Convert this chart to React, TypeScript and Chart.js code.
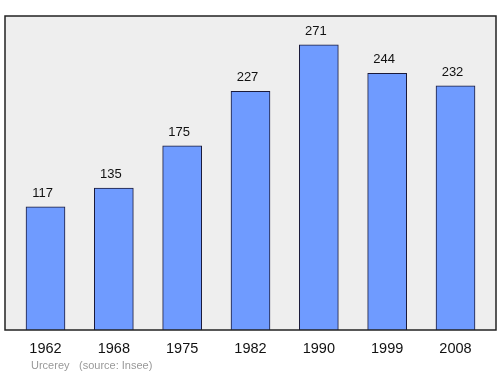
import React, { useEffect, useRef } from "react";
import { Chart, registerables } from "chart.js";

Chart.register(...registerables);

const years = ["1962", "1968", "1975", "1982", "1990", "1999", "2008"];
const population = [117, 135, 175, 227, 271, 244, 232];
const footerPlace = "Urcerey";
const footerSource = "(source: Insee)";

const FONT = "'Liberation Sans', Arial, sans-serif";

const boxPlugin = {
  id: "box",
  beforeDraw(chart: any) {
    const { ctx, chartArea } = chart;
    const ext = 6.33;
    ctx.save();
    ctx.fillStyle = "#eeeeee";
    ctx.fillRect(chartArea.left - ext, chartArea.top, chartArea.right - chartArea.left + 2 * ext, chartArea.bottom - chartArea.top);
    ctx.restore();
  },
  afterDatasetsDraw(chart: any) {
    const { ctx, chartArea } = chart;
    const ext = 6.33;
    ctx.save();
    ctx.strokeStyle = "#222222";
    ctx.lineWidth = 1.5;
    ctx.strokeRect(chartArea.left - ext, chartArea.top, chartArea.right - chartArea.left + 2 * ext, chartArea.bottom - chartArea.top);
    // value labels
    const meta = chart.getDatasetMeta(0);
    ctx.fillStyle = "#111111";
    ctx.font = `13px ${FONT}`;
    ctx.textAlign = "center";
    ctx.textBaseline = "alphabetic";
    meta.data.forEach((bar: any, i: number) => {
      ctx.fillText(String(population[i]), bar.x - 3, bar.y - 10);
    });
    // footer
    ctx.fillStyle = "#999999";
    ctx.font = `11px ${FONT}`;
    ctx.textAlign = "left";
    ctx.fillText(footerPlace, 31, 369);
    ctx.fillText(footerSource, 79, 369);
    ctx.restore();
  },
};

export default function App() {
  const ref = useRef<HTMLCanvasElement | null>(null);
  useEffect(() => {
    if (!ref.current) return;
    const chart = new Chart(ref.current, {
      type: "bar",
      data: {
        labels: years,
        datasets: [
          {
            data: population,
            backgroundColor: "#6f9bff",
            borderColor: "#1a1a3a",
            borderWidth: 1,
            barThickness: 39,
          },
        ],
      },
      options: {
        animation: false,
        responsive: false,
        maintainAspectRatio: false,
        layout: { padding: { left: 11.33, right: 10.33, top: 16, bottom: 0 } },
        plugins: { legend: { display: false }, tooltip: { enabled: false } },
        scales: {
          x: {
            grid: { display: false, drawTicks: false },
            border: { display: false },
            ticks: { color: "#111111", font: { family: FONT, size: 14.5 }, padding: 10 },
            afterFit: (axis: any) => {
              axis.height = 44;
            },
          },
          y: {
            display: false,
            min: 0,
            max: 298.5,
          },
        },
      },
      plugins: [boxPlugin],
    });
    return () => chart.destroy();
  }, []);
  return (
    <div style={{ position: "absolute", left: 0, top: 0, width: 500, height: 374, background: "#ffffff" }}>
      <canvas ref={ref} width={500} height={374} style={{ display: "block" }} />
    </div>
  );
}
